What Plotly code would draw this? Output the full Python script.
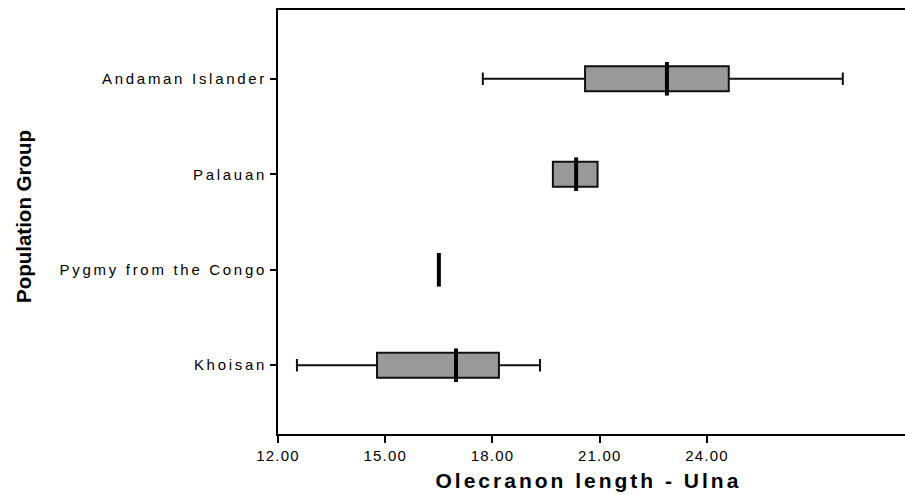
import plotly.graph_objects as go

# ---- data ----
groups = ["Khoisan", "Pygmy from the Congo", "Palauan", "Andaman Islander"]
lower = [12.53, 16.50, 19.69, 17.73]
q1 = [14.77, 16.50, 19.69, 20.59]
median = [16.98, 16.50, 20.34, 22.88]
q3 = [18.18, 16.50, 20.94, 24.61]
upper = [19.33, 16.50, 20.94, 27.80]
x_ticks = [12, 15, 18, 21, 24]
x_title = "Olecranon length - Ulna"
y_title = "Population Group"

fig = go.Figure()
fig.add_trace(go.Box(
    orientation="h",
    y=groups,
    q1=q1, median=median, q3=q3,
    lowerfence=lower, upperfence=upper,
    width=0.26,
    whiskerwidth=0.5,
    fillcolor="#999999",
    line=dict(color="#111111", width=2),
    boxpoints=False,
    showlegend=False,
    hoverinfo="skip",
))
# thick median strokes
fig.add_trace(go.Scatter(
    x=median, y=groups, mode="markers",
    marker=dict(symbol="line-ns", size=24, color="black",
                line=dict(color="black", width=4)),
    showlegend=False, hoverinfo="skip",
))

fig.update_layout(
    width=905, height=495,
    margin=dict(l=278, r=0, t=10, b=61),
    paper_bgcolor="white", plot_bgcolor="white",
    font=dict(family="Liberation Sans, Arial, sans-serif", color="black"),
    xaxis=dict(
        range=[12, 29.54], tickvals=x_ticks, tickformat=".2f",
        showgrid=False, zeroline=False,
        showline=True, linecolor="black", linewidth=2, mirror=True,
        ticks="outside", ticklen=7, tickwidth=2, tickcolor="black",
        tickfont=dict(size=15),
    ),
    yaxis=dict(
        categoryorder="array", categoryarray=groups,
        range=[-0.72, 3.72],
        showgrid=False, zeroline=False,
        showline=True, linecolor="black", linewidth=2, mirror=False,
        ticks="outside", ticklen=6, tickwidth=2, tickcolor="black",
        tickfont=dict(size=15),
    ),
    annotations=[
        dict(text="<b>" + x_title + "</b>", xref="paper", yref="paper",
             x=0, y=0, xanchor="center", yanchor="middle",
             xshift=310, yshift=-46, showarrow=False,
             font=dict(size=21)),
        dict(text="<b>" + y_title + "</b>", xref="paper", yref="paper",
             x=0, y=0.5, xanchor="center", yanchor="middle",
             xshift=-255, yshift=5, showarrow=False, textangle=-90,
             font=dict(size=20.5)),
    ],
)

post = """
var gd = document.getElementById('{plot_id}');
gd.querySelectorAll('.ytick text').forEach(function(t){t.style.letterSpacing='2.7px';});
gd.querySelectorAll('.xtick text').forEach(function(t){t.style.letterSpacing='1.2px';});
var ann = gd.querySelectorAll('.annotation-text');
if (ann.length) { ann[0].style.letterSpacing='3px'; }
"""
fig.write_html("out.html", post_script=post)
